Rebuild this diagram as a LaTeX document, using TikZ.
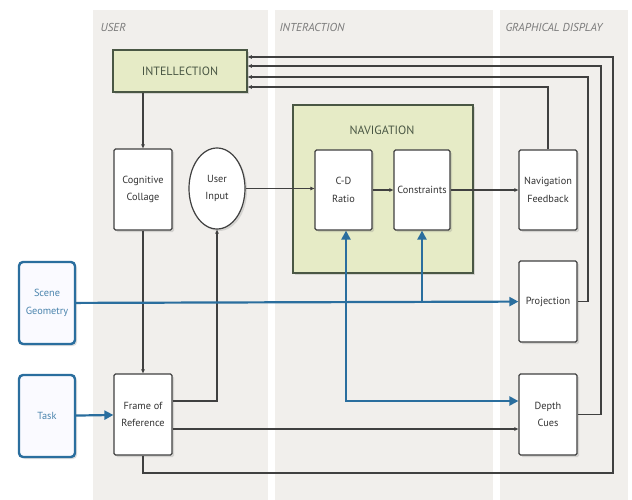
\documentclass[tikz,border=0pt]{standalone}
\usepackage{fontspec}
\setmainfont{PT Sans}
\usepackage{tikz}
\usetikzlibrary{arrows.meta,positioning,calc,fit,shapes.geometric,shadows}

\definecolor{panelgray}{HTML}{F1EFEC}
\definecolor{navgreen}{HTML}{E6EBC6}
\definecolor{navedge}{HTML}{4A5744}
\definecolor{flowblue}{HTML}{2A6E9E}
\definecolor{titlegray}{HTML}{7A7A7A}
\definecolor{boxtext}{HTML}{333333}

\begin{document}
\begin{tikzpicture}[x=1pt, y=-1pt, >={Triangle[length=4pt,width=3.4pt]}]

\tikzstyle{panel}=[fill=panelgray, draw=none]
\tikzstyle{paneltitle}=[anchor=west, text=titlegray, font=\itshape\fontsize{11.5}{13}\selectfont]
\tikzstyle{block}=[rectangle, rounded corners=1.5pt, draw=black!75, line width=1.2pt, fill=white,
  minimum width=58pt, minimum height=81pt, inner sep=1pt, align=center, text=boxtext,
  font=\fontsize{10.3}{17.5}\selectfont, drop shadow={shadow xshift=2pt, shadow yshift=-2pt, opacity=.25}]
\tikzstyle{source}=[block, draw=flowblue, line width=2.4pt, rounded corners=4pt, fill=blue!2,
  minimum width=56pt, minimum height=82pt, text=flowblue!85]
\tikzstyle{greenbox}=[rectangle, draw=navedge, line width=1.6pt, fill=navgreen,
  drop shadow={shadow xshift=2pt, shadow yshift=-2pt, opacity=.25}]
\tikzstyle{trans}=[->, line width=1.1pt, draw=black!75]
\tikzstyle{flow}=[-{Triangle[length=9pt,width=9pt]}, line width=2.2pt, draw=flowblue]

\useasboundingbox[fill=white] (0,0) rectangle (632,500);

% the three columns
\fill[panel] (93,10) rectangle (268,500);
\fill[panel] (275,10) rectangle (493,500);
\fill[panel] (500,10) rectangle (628,500);
\node[paneltitle] (tuser) at (97,27) {USER};
\node[paneltitle] (tinter) at (276,27) {INTERACTION};
\node[paneltitle] (tdisp) at (502,27) {GRAPHICAL DISPLAY};

% user column
\node[greenbox, minimum width=134pt, minimum height=42pt, text=navedge,
  font=\fontsize{12}{14}\selectfont] (intel) at (180,71) {INTELLECTION};
\node[block] (cog) at (143,189.5) {Cognitive\\Collage};
\node[block, ellipse, minimum width=56pt, minimum height=81pt] (uin) at (217,188.5) {User\\Input};
\node[block] (frame) at (143,414.5) {Frame of\\Reference};

% navigation group
\node[greenbox, minimum width=180pt, minimum height=168pt] (nav) at (383,189) {};
\node[text=navedge, font=\fontsize{12}{14}\selectfont] (navtitle) at (382,130) {NAVIGATION};
\node[block, minimum width=57pt, minimum height=80pt] (cd) at (343.5,190) {C-D\\Ratio};
\node[block, minimum width=56pt, minimum height=80pt] (cons) at (422,190) {Constraints};

% display column
\node[block, minimum height=80pt] (navfb) at (548,190) {Navigation\\Feedback};
\node[block] (proj) at (548,301.5) {Projection};
\node[block] (depth) at (548,414.5) {Depth\\Cues};

% inputs
\node[source] (scene) at (47,303) {Scene\\Geometry};
\node[source] (task) at (47,416) {Task};

% corners of the return lines
\coordinate (loopA) at (613,473);
\coordinate (loopB) at (601,66);
\coordinate (loopC) at (588,77);
\coordinate (cdfoot) at (346,401);

\draw[trans] (intel.south -| cog) -- (cog);
\draw[trans] (cog) -- (frame);
\draw[trans] ([yshift=13.5pt]frame.east) -| (uin.south);
\draw[trans] ([yshift=-14.5pt]frame.east) -- ([yshift=-14.5pt]frame.east -| depth.west);
\draw[trans] (uin.east) -- (uin.east -| cd.west);
\draw[trans] (cd) -- (cons);
\draw[trans] (cons) -- (navfb);

% feedback loops back to intellection
\draw[trans] (frame.south) |- (loopA) |- ([yshift=14pt]intel.east);
\draw[trans] (depth.east) -| (loopB) -- (loopB -| intel.east);
\draw[trans] (proj.east) -| (loopC) -- (loopC -| intel.east);
\draw[trans] (navfb.north) |- ([yshift=-16pt]intel.east);

% blue inputs
\draw[flow] (task) -- (frame);
\draw[flow] (scene) -- (proj);
\draw[flow] (scene.east -| cons.south) -- (cons.south);
\draw[flow, {Triangle[length=9pt,width=9pt]}-{Triangle[length=9pt,width=9pt]}]
  (cd.south -| cdfoot) -- (cdfoot) -- (cdfoot -| depth.west);

\end{tikzpicture}
\end{document}
